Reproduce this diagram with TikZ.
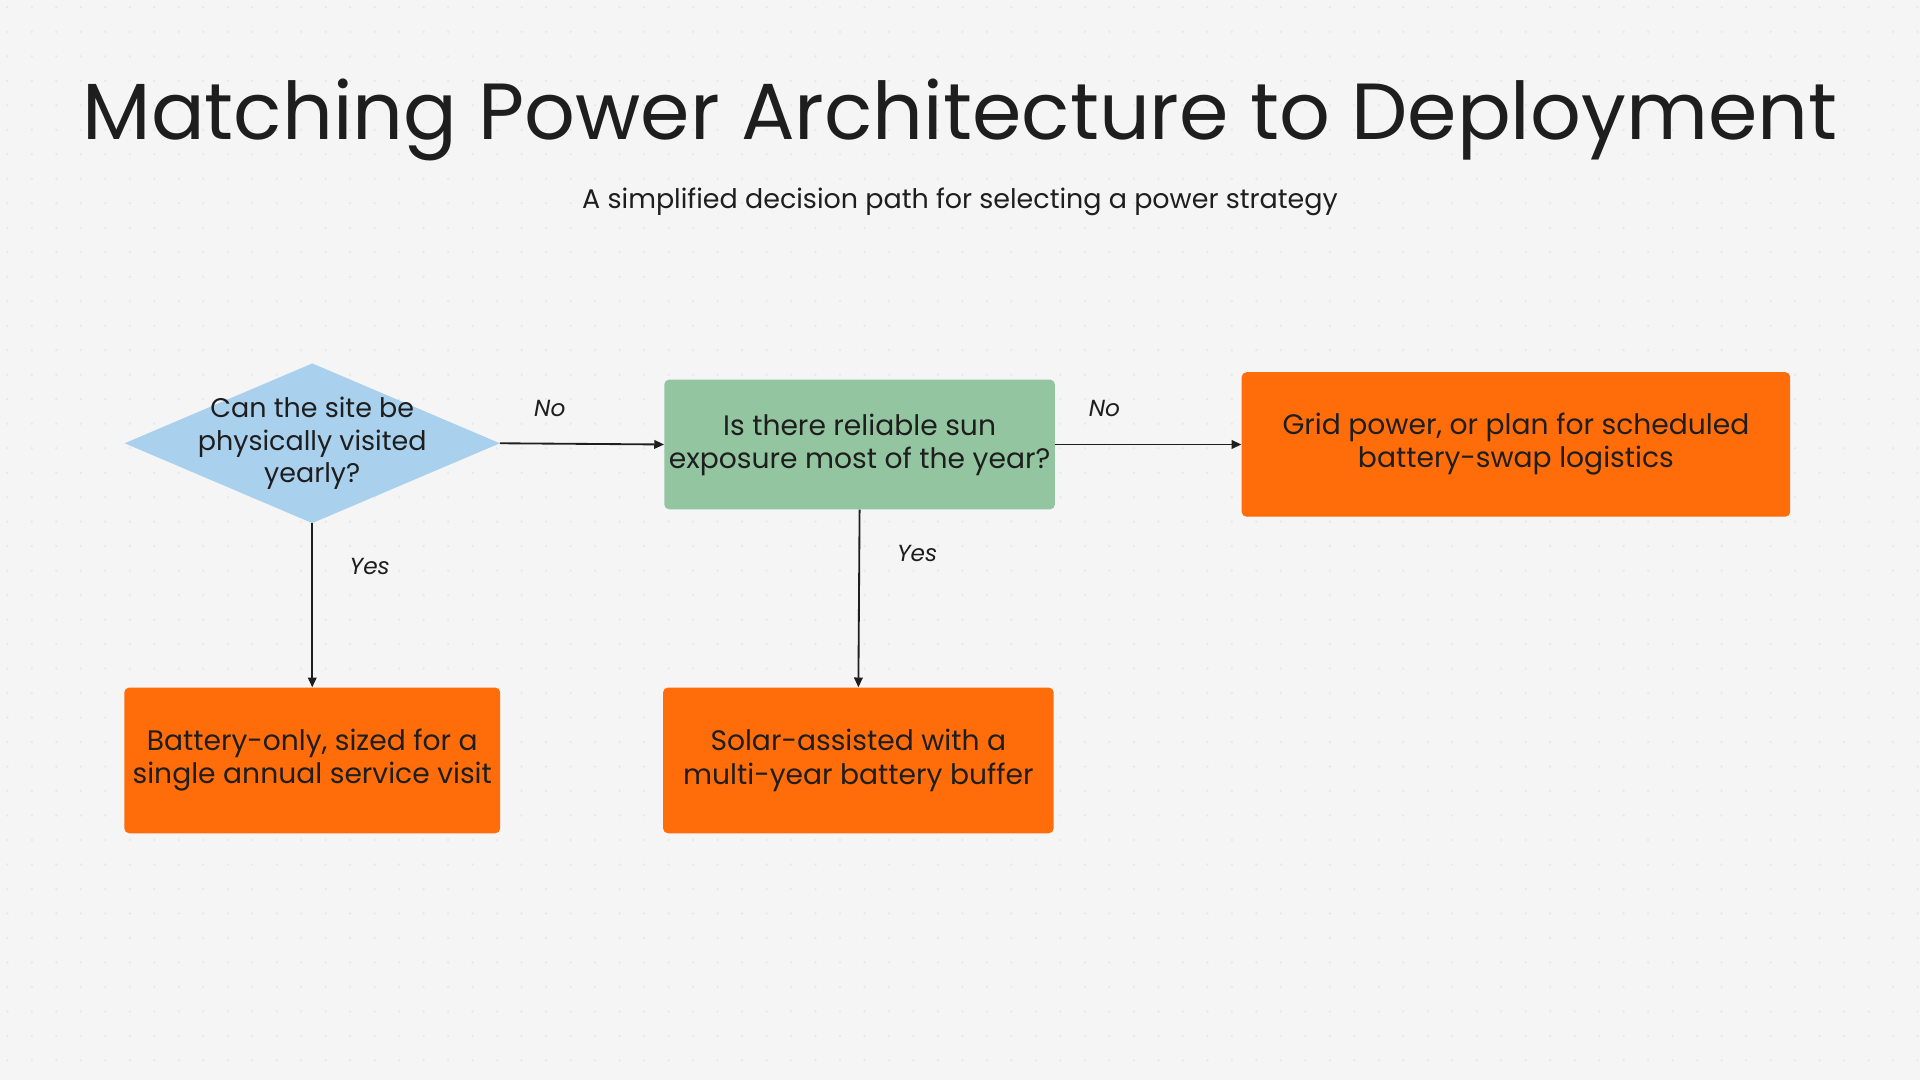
\documentclass[tikz,border=0pt]{standalone}
\usepackage{fontspec}
\setmainfont{Poppins}
\usetikzlibrary{shapes.geometric,arrows.meta}
\definecolor{bg}{HTML}{F5F5F5}
\definecolor{dia}{HTML}{A9D1EE}
\definecolor{grn}{HTML}{93C6A0}
\definecolor{org}{HTML}{FF6D0A}
\definecolor{txt}{HTML}{1E1E1E}
\tikzset{
 box/.style={draw=none,rounded corners=4pt,align=center,text=txt,font=\fontsize{23}{27}\selectfont,inner sep=0pt},
 orangebox/.style={box,fill=org},
 lbl/.style={font=\fontsize{19}{22}\selectfont\itshape,text=txt},
 arr/.style={draw=txt,line width=1.5pt,-{Triangle[length=8pt,width=7pt]}}
}
\begin{document}
\begin{tikzpicture}[x=1pt,y=1pt]
\fill[bg] (0,0) rectangle (1568,-882);
\useasboundingbox (0,0) rectangle (1568,-882);
\foreach \i in {0,...,78}{\foreach \j in {0,...,44}{\fill[gray!18] (\i*20+6,-\j*20-6) circle (1);}}
\node[text=txt,font=\fontsize{65}{72}\selectfont] (title) at (784,-98) {Matching Power Architecture to Deployment};
\node[text=txt,font=\fontsize{22}{26}\selectfont] (sub) at (784,-165) {A simplified decision path for selecting a power strategy};
\node[minimum width=306pt,minimum height=130pt,inner sep=0pt] (q1) at (255,-362) {};
\fill[dia] (q1.north) -- (q1.east) -- (q1.south) -- (q1.west) -- cycle;
\node[align=center,text=txt,font=\fontsize{22}{26.5}\selectfont] (q1t) at (q1.center) {Can the site be\\physically visited\\yearly?};
\node[box,fill=grn,minimum width=319pt,minimum height=106pt] (q2) at (702,-363) {Is there reliable sun\\exposure most of the year?};
\node[orangebox,minimum width=448pt,minimum height=118pt] (r1) at (1238,-363) {Grid power, or plan for scheduled\\battery-swap logistics};
\node[orangebox,minimum width=307pt,minimum height=119pt] (r2) at (255,-621) {Battery-only, sized for a\\single annual service visit};
\node[orangebox,minimum width=319pt,minimum height=119pt] (r3) at (701,-621) {Solar-assisted with a\\multi-year battery buffer};
\draw[arr] (q1.east) -- (q2.west);
\draw[arr] (q2.east) -- (r1.west);
\draw[arr] (q1.south) -- (r2.north);
\draw[arr] (q2.south) -- (r3.north);
\node[lbl] (n1) at (449,-334) {No};
\node[lbl] (n2) at (902,-334) {No};
\node[lbl] (y1) at (302,-463) {Yes};
\node[lbl] (y2) at (749,-452) {Yes};
\end{tikzpicture}
\end{document}
